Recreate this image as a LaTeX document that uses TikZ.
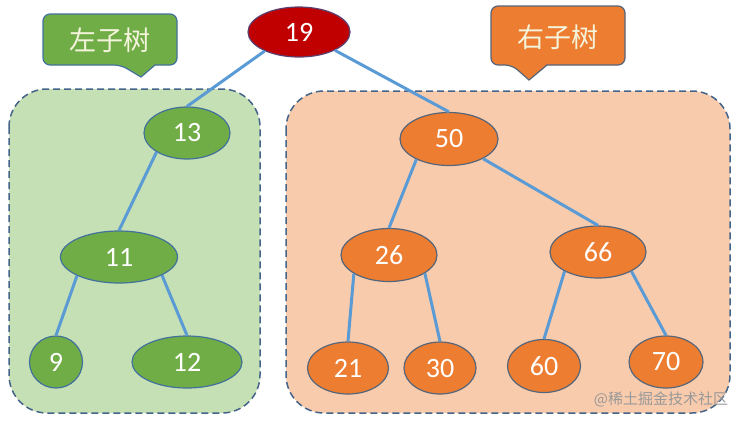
\documentclass[tikz,border=0pt]{standalone}
\usepackage{fontspec}
\setmainfont{Carlito}
\newfontfamily\cjk{Noto Sans CJK SC}
\usetikzlibrary{shapes.geometric}
\definecolor{rootred}{HTML}{C00000}
\definecolor{rootborder}{HTML}{5A4070}
\definecolor{grn}{HTML}{70AD47}
\definecolor{grnborder}{HTML}{41719C}
\definecolor{org}{HTML}{ED7D31}
\definecolor{orgborder}{HTML}{55657A}
\definecolor{lightgrn}{HTML}{C5E0B4}
\definecolor{lightorg}{HTML}{F8CBAD}
\definecolor{dashcol}{HTML}{44648A}
\definecolor{edgeblue}{HTML}{5B9BD5}
\definecolor{cream}{HTML}{F4F4DC}
\tikzset{
  tnode/.style={ellipse, draw, line width=1.2bp, inner sep=0pt, text=white,
    font=\fontsize{28bp}{30bp}\selectfont},
  gnode/.style={tnode, fill=grn, draw=grnborder},
  onode/.style={tnode, fill=org, draw=orgborder},
  edge/.style={draw=edgeblue, line width=3bp},
  group/.style={dashed, dash pattern=on 7bp off 4bp, draw=dashcol, line width=1.5bp, rounded corners=38bp},
  callouttext/.style={text=cream, font=\cjk\fontsize{27bp}{30bp}\selectfont, inner sep=0pt},
}
\begin{document}
\begin{tikzpicture}[x=1bp,y=-1bp]
\useasboundingbox (0,0) rectangle (745,421);
% group boxes
\draw[group, fill=lightgrn] (9,89) rectangle (260,413);
\draw[group, fill=lightorg] (286,91) rectangle (730,413);
% callouts
\draw[line width=1.2bp, draw=grnborder, fill=grn] (155,65) [rounded corners=7bp] -- (177,65) -- (177,14) -- (43,14) -- (43,65) -- (121,65) [sharp corners] -- (141,77) -- cycle;
\node[callouttext] (lt) at (110,40) {左子树};
\draw[line width=1.2bp, draw=orgborder, fill=org] (547,65) [rounded corners=7bp] -- (625,65) -- (625,6) -- (491,6) -- (491,65) -- (512,65) [sharp corners] -- (529,80) -- cycle;
\node[callouttext] (rt) at (558,37) {右子树};
% nodes
\node[tnode, fill=rootred, draw=rootborder, minimum width=102bp, minimum height=50bp] (n19) at (299,32) {19};
\node[gnode, minimum width=86bp, minimum height=52bp] (n13) at (187,133) {13};
\node[gnode, minimum width=117bp, minimum height=52bp] (n11) at (119,257) {11};
\node[gnode, minimum width=53bp, minimum height=52bp] (n9) at (56,362) {9};
\node[gnode, minimum width=110bp, minimum height=52bp] (n12) at (187,362) {12};
\node[onode, minimum width=98bp, minimum height=53bp] (n50) at (449,139) {50};
\node[onode, minimum width=96bp, minimum height=53bp] (n26) at (389,255) {26};
\node[onode, minimum width=96bp, minimum height=52bp] (n66) at (598,252) {66};
\node[onode, minimum width=81bp, minimum height=52bp] (n21) at (348,368) {21};
\node[onode, minimum width=72bp, minimum height=52bp] (n30) at (440,368) {30};
\node[onode, minimum width=73bp, minimum height=53bp] (n60) at (544,366) {60};
\node[onode, minimum width=74bp, minimum height=52bp] (n70) at (666,362) {70};
% edges
\path[edge] (n19.209) -- (n13.north);
\path[edge] (n19.333) -- (n50.north);
\path[edge] (n13.212) -- (n11.north);
\path[edge] (n11.204) -- (n9.north);
\path[edge] (n11.337) -- (n12.north);
\path[edge] (n50.212) -- (n26.north);
\path[edge] (n50.330) -- (n66.north);
\path[edge] (n26.208) -- (n21.north);
\path[edge] (n26.333) -- (n30.north);
\path[edge] (n66.210) -- (n60.north);
\path[edge] (n66.330) -- (n70.north);
% watermark
\node[text=black!40, font=\cjk\fontsize{15bp}{16bp}\selectfont, inner sep=0pt] (wm) at (661,399) {@稀土掘金技术社区};
\end{tikzpicture}
\end{document}
